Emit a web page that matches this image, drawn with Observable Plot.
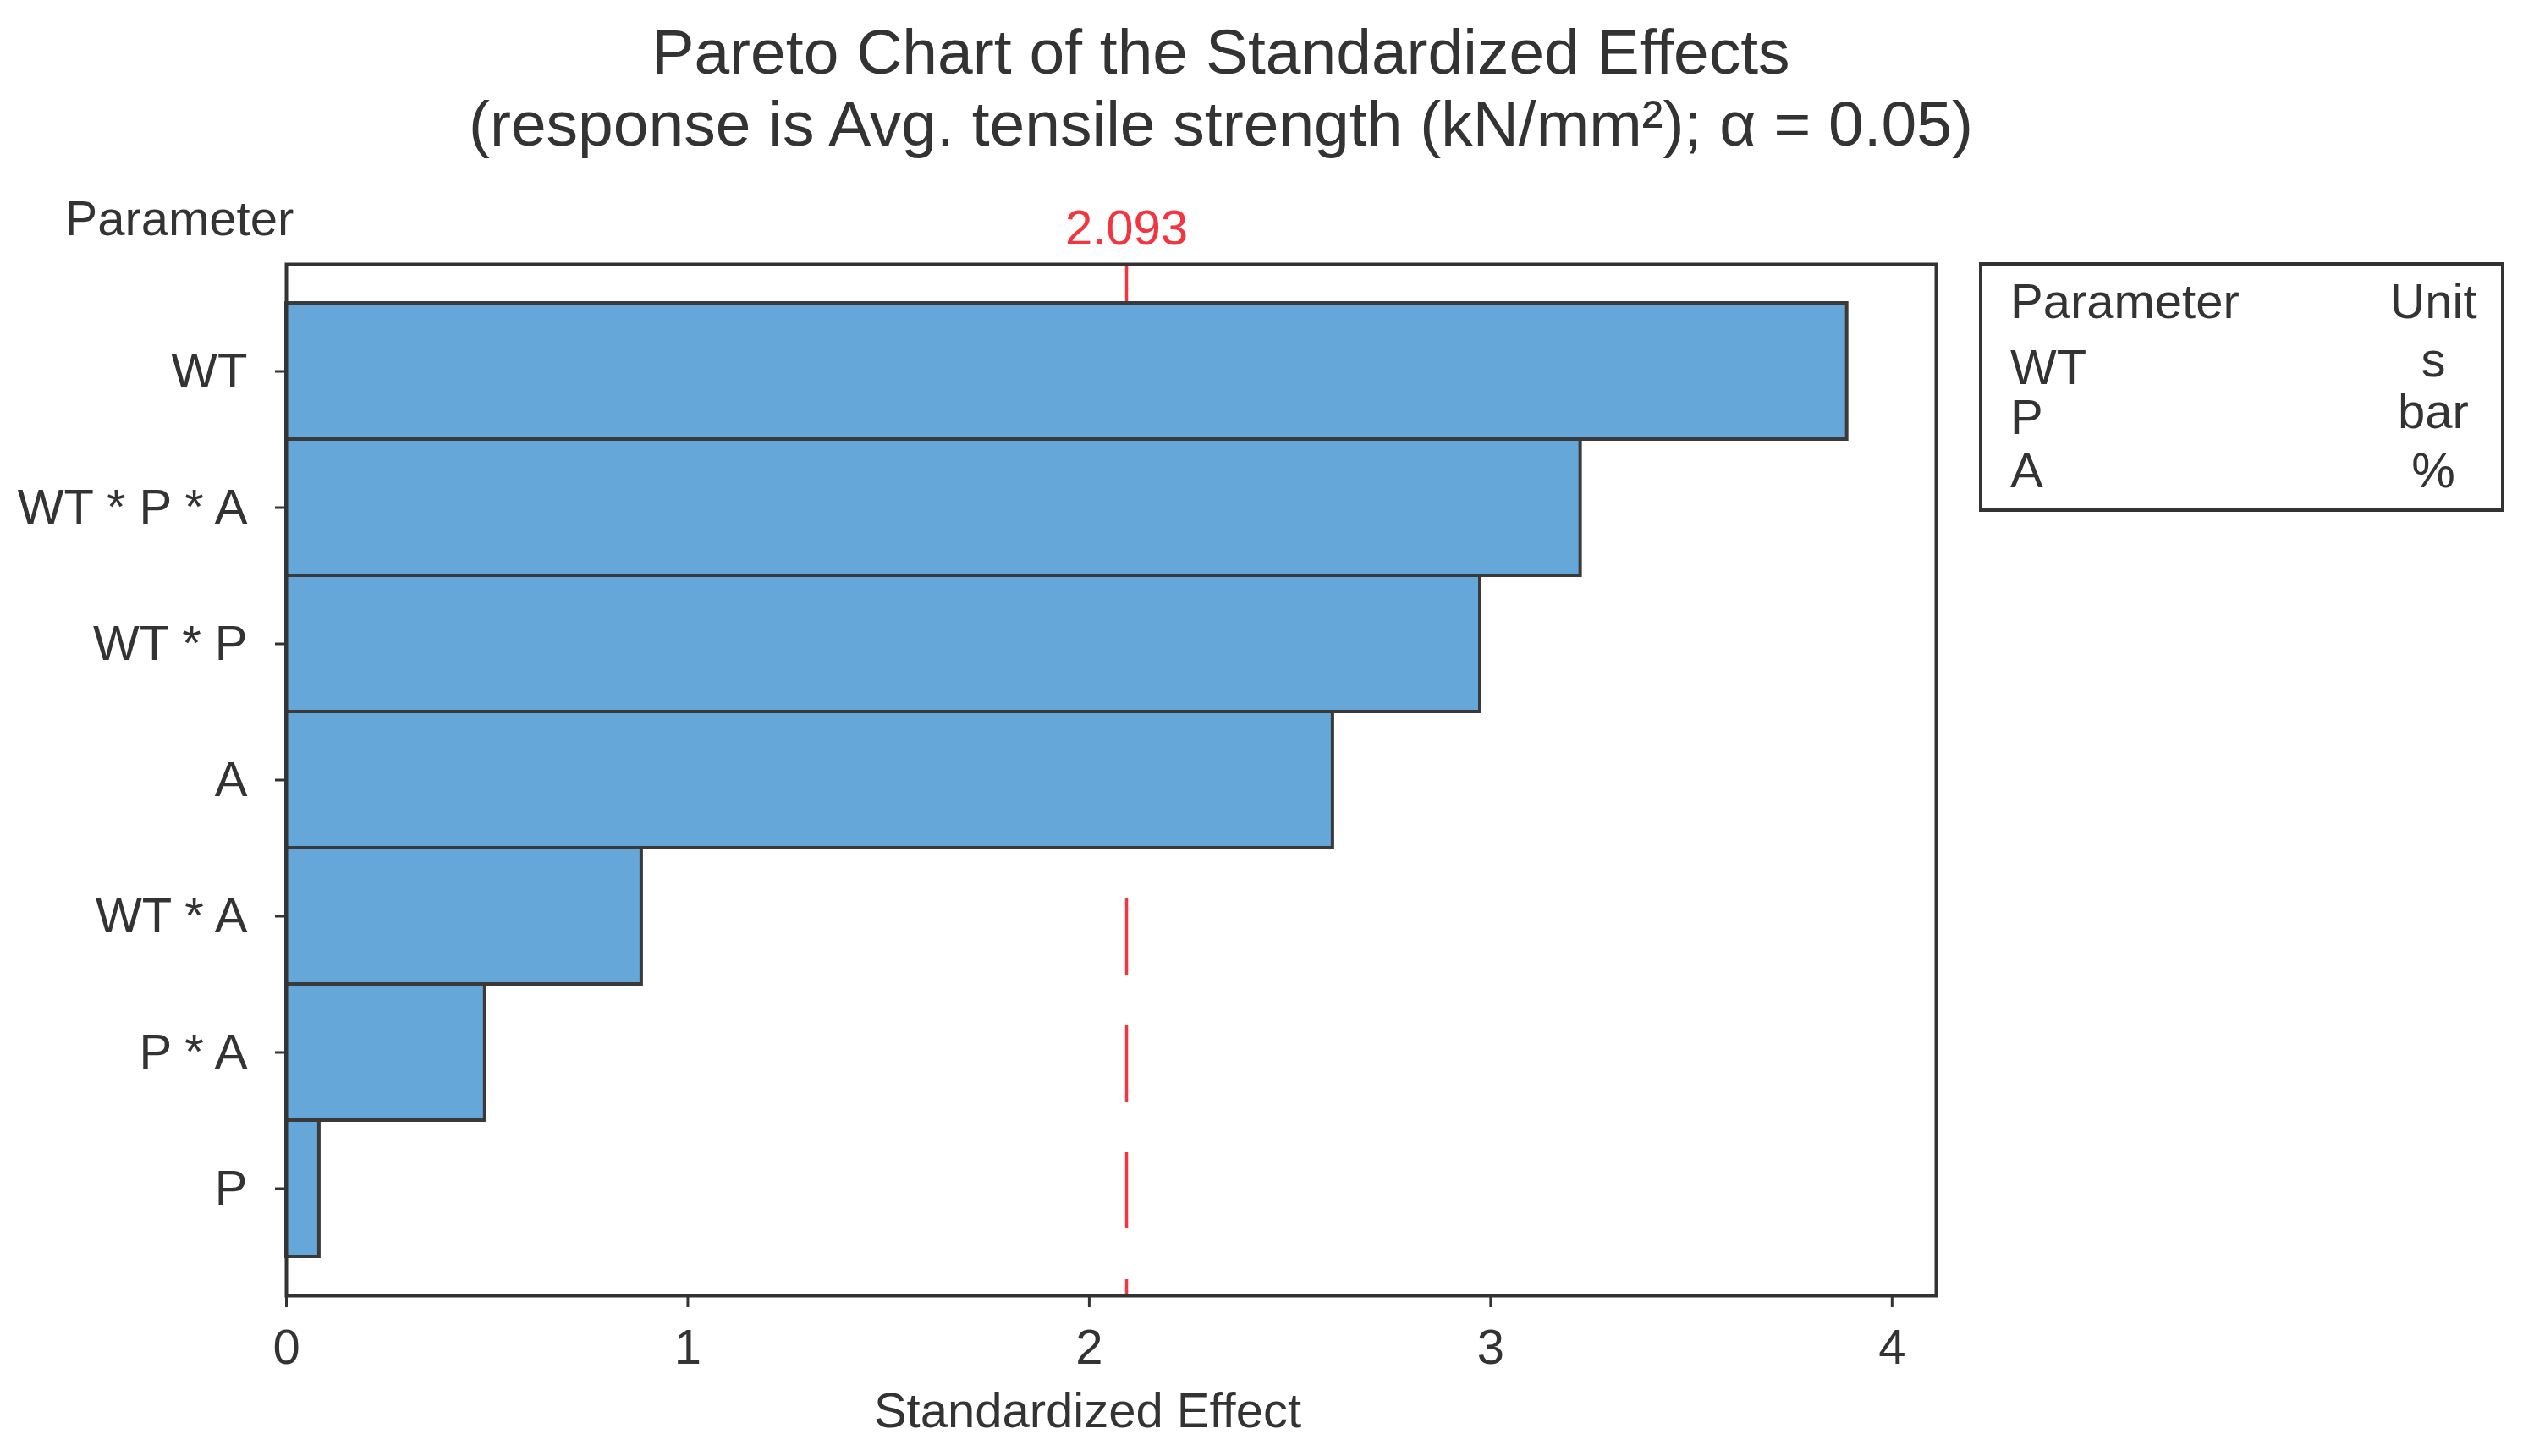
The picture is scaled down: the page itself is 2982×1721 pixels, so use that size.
<!DOCTYPE html>
<html><head><meta charset="utf-8">
<script src="https://cdn.jsdelivr.net/npm/d3@7"></script>
<script src="https://cdn.jsdelivr.net/npm/@observablehq/plot@0.6"></script>
<style>
html,body{margin:0;padding:0;background:#fff;}
body{width:2982px;height:1721px;position:relative;overflow:hidden;font-family:"Liberation Sans",Arial,sans-serif;color:#333;}
#title{position:absolute;left:0;top:19px;width:2886px;text-align:center;font-size:75px;line-height:85px;}
#chart{position:absolute;left:0;top:200px;}
#legend{position:absolute;left:2339px;top:310px;width:621px;height:295px;border:4px solid #333;box-sizing:border-box;}
.lg{position:absolute;height:0;line-height:0;font-size:58px;white-space:nowrap;}
.unit{transform:translateX(-50%);}
</style></head><body>
<div id="title"></div>
<div id="chart"></div>
<div id="legend"></div>
<script>
// ---- data ----
const titleLines = ["Pareto Chart of the Standardized Effects", "(response is Avg. tensile strength (kN/mm²); α = 0.05)"];
const parameters = ["WT", "WT * P * A", "WT * P", "A", "WT * A", "P * A", "P"];
const effects = [3.888, 3.224, 2.974, 2.607, 0.885, 0.495, 0.082];
const criticalValue = 2.093;
const xTicks = [0, 1, 2, 3, 4];
const xLabel = "Standardized Effect";
const yLabel = "Parameter";
const legendHeader = ["Parameter", "Unit"];
const legendParams = ["WT", "P", "A"];
const legendUnits = ["s", "bar", "%"];

// ---- layout / style ----
const ink = "#333";
const red = "#f2353f";
const barFill = "#66a7da";
const font = "'Liberation Sans', Arial, sans-serif";
const fs = 58;

document.getElementById("title").innerHTML = titleLines.map(t => `<div>${t}</div>`).join("");

const data = parameters.map((p, i) => ({parameter: p, effect: effects[i]}));

const chart = Plot.plot({
  width: 2982, height: 1521,
  marginTop: 112, marginBottom: 190, marginLeft: 338, marginRight: 694,
  style: {fontFamily: font, fontSize: fs + "px", color: ink, background: "white", overflow: "visible"},
  x: {domain: [0, 4.11]},
  y: {domain: parameters, paddingInner: 0, paddingOuter: 0.28},
  marks: [
    Plot.ruleX([criticalValue], {stroke: red, strokeWidth: 3.5, strokeDasharray: "90,60"}),
    Plot.barX(data, {x: "effect", y: "parameter", fill: barFill, stroke: "#3a3a3a", strokeWidth: 4}),
    Plot.frame({stroke: ink, strokeWidth: 4}),
    Plot.axisX({ticks: xTicks, tickFormat: d3.format("d"), tickSize: 14, tickPadding: 25, strokeWidth: 3, fontSize: fs, label: null}),
    Plot.axisY({tickSize: 13, tickPadding: 33, strokeWidth: 3, fontSize: fs, label: null}),
    Plot.text([xLabel], {text: d => d, frameAnchor: "bottom", lineAnchor: "middle", dx: -28, dy: 137, fontSize: fs}),
    Plot.text([criticalValue], {x: d => d, text: d => d.toFixed(3), frameAnchor: "top", lineAnchor: "middle", dy: -42, fill: red, fontSize: fs}),
    Plot.text([yLabel], {text: d => d, frameAnchor: "top-left", lineAnchor: "middle", dx: -262, dy: -53, textAnchor: "start", fontSize: fs})
  ]
});
document.getElementById("chart").append(chart);

// ---- legend table ----
const lg = document.getElementById("legend");
const paramX = 33, unitX = 533;
const headerY = 42;
const paramRowY = [120, 179, 242];
const unitRowY = [111, 172, 242];
function addText(txt, left, top, cls) {
  const d = document.createElement("div");
  d.className = "lg" + (cls ? " " + cls : "");
  d.style.left = left + "px";
  d.style.top = top + "px";
  d.textContent = txt;
  lg.append(d);
}
addText(legendHeader[0], paramX, headerY);
addText(legendHeader[1], unitX, headerY, "unit");
legendParams.forEach((p, i) => addText(p, paramX, paramRowY[i]));
legendUnits.forEach((u, i) => addText(u, unitX, unitRowY[i], "unit"));
</script>
</body></html>
